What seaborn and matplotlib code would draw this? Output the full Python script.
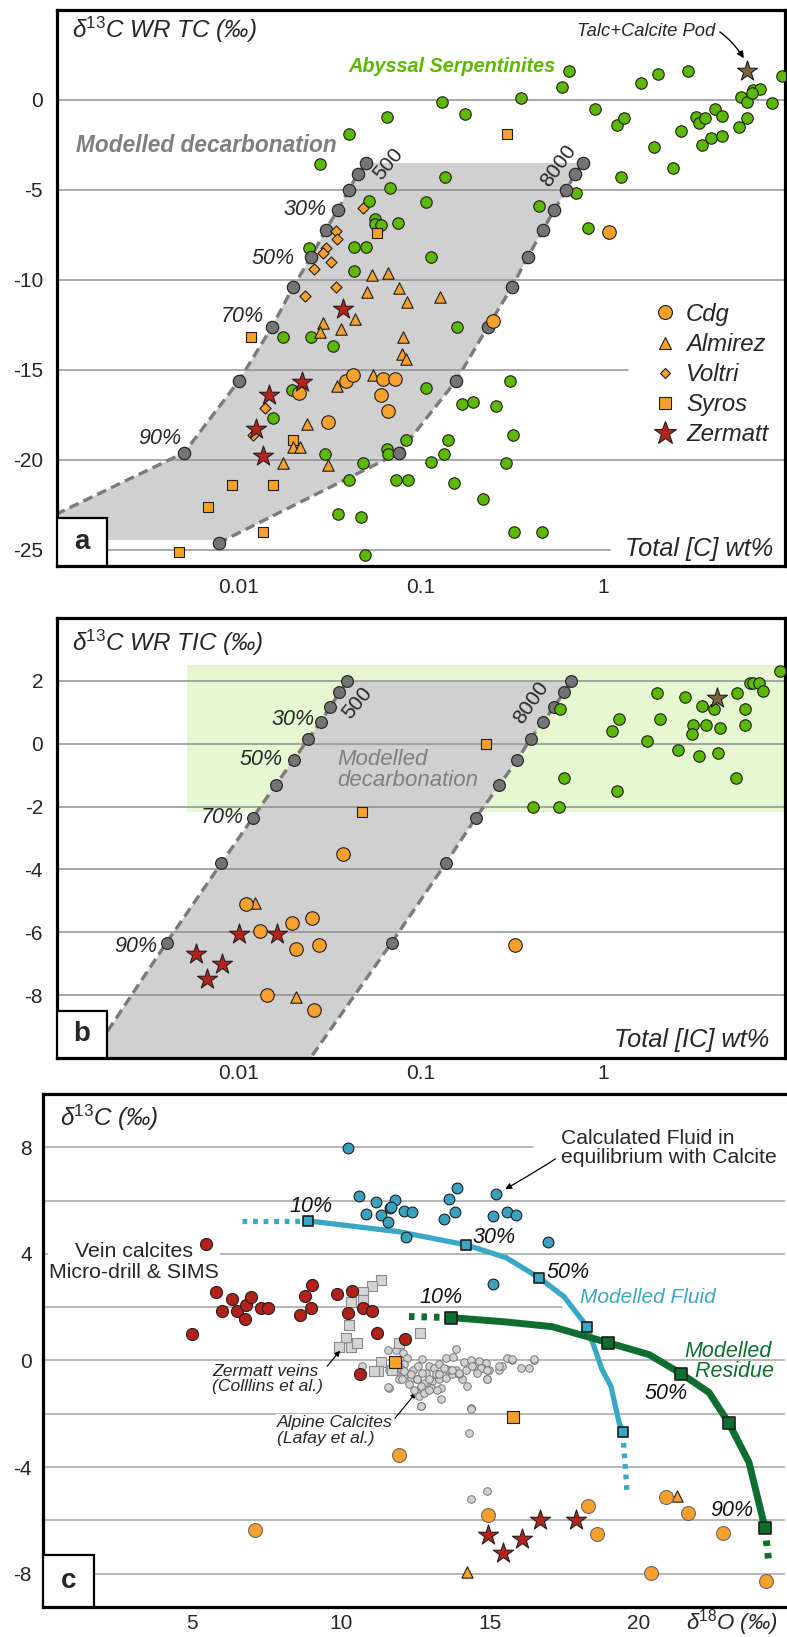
import matplotlib
matplotlib.use("Agg")
import matplotlib.pyplot as plt
import seaborn as sns
from matplotlib.patches import Polygon, Rectangle
from matplotlib.lines import Line2D
from matplotlib.ticker import FixedLocator, FixedFormatter, NullLocator

sns.set_style("white")
plt.rcParams["font.family"] = ["Liberation Sans", "DejaVu Sans"]
plt.rcParams["mathtext.fontset"] = "custom"
plt.rcParams["mathtext.rm"] = "Liberation Sans"
plt.rcParams["mathtext.it"] = "Liberation Sans:italic"

# ---------------- panel a : total C ----------------
a_green_x = [0.065, 0.040, 0.028, 0.130, 0.175, 0.355, 0.596, 0.65, 0.90, 1.19, 1.30, 1.62, 2.0, 2.93,
             1.91, 2.43, 2.69, 3.24, 3.37, 3.63, 4.12, 4.51, 3.50, 3.92, 4.51, 5.58, 6.17, 5.72, 6.17,
             6.66, 7.28, 6.6, 8.5, 9.6, 0.135, 0.106, 0.075, 0.113, 0.068, 0.445, 0.71, 0.83, 1.26,
             0.0518, 0.0558, 0.056, 0.060, 0.0243, 0.0428, 0.0499, 0.0428, 0.0175, 0.0249, 0.0329,
             0.158, 0.0195, 0.0154, 0.0297, 0.048, 0.065, 0.066, 0.040, 0.073, 0.035, 0.0468, 0.049,
             0.106, 0.168, 0.193, 0.258, 0.308, 0.32, 0.141, 0.134, 0.113, 0.083, 0.085, 0.152,
             0.219, 0.293, 0.324, 0.462]
a_green_y = [-0.94, -1.9, -3.56, -0.11, -0.78, 0.11, 0.72, 1.61, -0.5, -1.39, -1.0, 0.94, 1.44, 1.61,
             -2.61, -3.78, -1.72, -0.94, -1.28, -1.0, -0.5, -0.89, -2.5, -2.11, -2.0, -1.5, -1.0, 0.17,
             -0.11, 0.56, 0.61, 0.39, -0.17, 1.33, -4.28, -5.67, -6.83, -8.72, -4.89, -5.89, -5.17,
             -7.1, -4.28, -5.6, -6.6, -6.9, -6.95, -8.2, -8.17, -8.17, -9.5, -13.2, -13.2, -13.67,
             -12.6, -16.1, -17.7, -19.7, -20.2, -19.4, -19.65, -21.1, -21.1, -23.0, -23.2, -25.3,
             -16.0, -16.9, -16.8, -17.0, -15.6, -18.6, -18.9, -19.7, -20.1, -18.9, -21.1, -21.3,
             -22.2, -20.2, -24.0, -24.0]

a_cdg_x = [1.08, 0.249, 0.0214, 0.0309, 0.0387, 0.0424, 0.062, 0.072, 0.0603, 0.066]
a_cdg_y = [-7.33, -12.3, -16.3, -17.9, -15.6, -15.3, -15.5, -15.5, -16.4, -17.3]
a_alm_x = [0.0538, 0.066, 0.0505, 0.076, 0.0838, 0.127, 0.0434, 0.029, 0.0363, 0.0279, 0.0796,
           0.0787, 0.0828, 0.0545, 0.0346, 0.0237, 0.0197, 0.0216, 0.0175, 0.0309]
a_alm_y = [-9.72, -9.61, -10.67, -10.44, -11.22, -10.94, -12.2, -12.39, -12.72, -12.9, -13.17,
           -14.1, -14.4, -15.3, -15.9, -18.0, -19.3, -19.3, -20.2, -20.3]
a_vol_x = [0.048, 0.034, 0.0345, 0.030, 0.029, 0.032, 0.0258, 0.0341, 0.0231, 0.0139, 0.0119]
a_vol_y = [-6.0, -7.3, -7.7, -8.2, -8.5, -9.0, -9.4, -10.39, -10.89, -17.1, -18.6]
a_syr_x = [0.297, 0.0573, 0.0116, 0.0198, 0.0092, 0.0154, 0.0068, 0.0136, 0.0047]
a_syr_y = [-1.89, -7.39, -13.2, -18.9, -21.4, -21.4, -22.6, -24.0, -25.1]
a_zer_x = [0.0373, 0.0222, 0.0146, 0.0124, 0.0136]
a_zer_y = [-11.6, -15.7, -16.4, -18.3, -19.8]
a_pod_x = [6.2]
a_pod_y = [1.6]

a500_x = [0.050, 0.045, 0.040, 0.035, 0.030, 0.025, 0.0198, 0.0152, 0.0100, 0.0050]
a500_y = [-3.5, -4.1, -5.0, -6.1, -7.2, -8.7, -10.4, -12.6, -15.6, -19.6]
a500_end = (0.001, -23.0)
a8000_x = [0.78, 0.70, 0.63, 0.54, 0.47, 0.387, 0.316, 0.233, 0.156, 0.076, 0.0078]
a8000_y = [-3.5, -4.1, -5.0, -6.1, -7.2, -8.7, -10.4, -12.6, -15.6, -19.6, -24.6]
a_pct_labels = ["30%", "50%", "70%", "90%"]
a_pct_x = [0.0231, 0.0154, 0.0104, 0.00368]
a_pct_y = [-6.06, -8.83, -12.06, -18.83]

# ---------------- panel b : inorganic C ----------------
b_green_x = [0.58, 0.61, 0.414, 0.575, 1.12, 1.22, 1.19, 1.74, 1.97, 2.07, 2.60, 2.84, 3.14, 3.07,
             3.52, 3.66, 4.05, 4.37, 3.39, 4.31, 5.40, 5.45, 6.04, 6.04, 6.44, 6.68, 7.21, 7.59, 9.4]
b_green_y = [1.12, -1.09, -2.01, -2.01, 0.42, 0.80, -1.50, 0.10, 1.60, 0.80, -0.19, 1.50, 0.61, 0.32,
             1.21, 0.61, 1.12, 0.51, -0.38, -0.29, -1.09, 1.60, 1.12, 0.61, 1.92, 1.92, 1.92, 1.69, 2.30]
b_cdg_x = [0.0109, 0.013, 0.0195, 0.0251, 0.0205, 0.0274, 0.0142, 0.026, 0.0375, 0.327]
b_cdg_y = [-5.11, -5.97, -5.72, -5.53, -6.52, -6.39, -7.99, -8.47, -3.51, -6.42]
b_alm_x = [0.0122, 0.0207]
b_alm_y = [-5.08, -8.05]
b_syr_x = [0.0477, 0.229]
b_syr_y = [-2.17, 0.0]
b_zer_x = [0.00582, 0.00671, 0.0081, 0.010, 0.0161]
b_zer_y = [-6.68, -7.48, -7.0, -6.07, -6.04]
b_pod_x = [4.25]
b_pod_y = [1.44]

b500_x = [0.0394, 0.0356, 0.0318, 0.0281, 0.0241, 0.0200, 0.0159, 0.0119, 0.0080, 0.0040]
b500_y = [1.98, 1.63, 1.18, 0.70, 0.16, -0.51, -1.31, -2.36, -3.80, -6.33]
b500_end = (0.0015, -10.03)
b8000_x = [0.668, 0.61, 0.54, 0.47, 0.40, 0.339, 0.27, 0.20, 0.137, 0.069]
b8000_y = [1.98, 1.63, 1.18, 0.70, 0.16, -0.51, -1.31, -2.36, -3.80, -6.33]
b8000_end = (0.0245, -10.03)
b_pct_x = [0.0197, 0.0132, 0.0081, 0.0027]
b_pct_y = [0.77, -0.51, -2.36, -6.45]

# ---------------- panel c : d18O vs d13C ----------------
c_fluid_pts_x = [10.23, 10.6, 11.17, 11.8, 10.83, 11.35, 11.64, 11.58, 11.68, 12.11, 12.38, 12.18,
                 13.89, 13.62, 13.83, 13.46, 15.2, 15.57, 15.87, 15.1, 16.95, 15.1]
c_fluid_pts_y = [7.98, 6.18, 5.96, 6.03, 5.51, 5.47, 5.73, 5.21, 5.77, 5.62, 5.58, 4.64,
                 6.48, 6.07, 5.58, 5.32, 6.25, 5.58, 5.47, 5.43, 4.46, 2.88]
c_vein_x = [5.47, 5.0, 5.8, 6.0, 6.34, 6.51, 6.81, 6.98, 6.78, 7.32, 7.55, 8.62, 8.79, 9.03, 8.99,
            9.87, 10.37, 10.23, 10.74, 11.04, 11.21, 12.15, 10.64]
c_vein_y = [4.38, 1.01, 2.58, 1.87, 2.32, 1.84, 2.10, 2.40, 1.57, 1.98, 1.98, 1.69, 2.43, 2.85, 1.98,
            2.51, 2.62, 1.80, 1.98, 1.84, 1.05, 0.82, -0.52]
c_collins_x = [11.34, 11.04, 10.74, 10.74, 10.34, 10.27, 10.17, 9.93, 10.34, 10.54, 12.65, 11.95,
               11.34, 11.24, 11.11, 11.71]
c_collins_y = [3.03, 2.81, 2.58, 2.28, 2.21, 1.35, 0.86, 0.52, 0.52, 0.64, 1.05, 0.64,
               -0.07, -0.41, -0.41, -0.34]
c_lafay_x = [11.59, 11.83, 12.09, 12.23, 12.11, 11.95, 11.61, 11.83, 12.06, 12.23, 12.42, 12.60, 12.73,
             12.95, 13.12, 13.29, 13.51, 13.77, 13.85, 14.13, 14.35, 14.63, 14.85, 14.97, 14.46, 14.74,
             15.30, 15.41, 15.58, 15.75, 16.03, 16.31, 16.48, 12.11, 12.34, 12.56, 12.79, 13.07, 13.29,
             13.51, 13.74, 13.85, 14.07, 14.24, 13.34, 13.01, 12.67, 12.56, 12.62, 12.79, 11.61, 11.95,
             13.34, 12.67, 14.35, 13.62, 12.84, 13.18, 12.28, 14.91, 13.96, 13.51, 12.11, 12.34, 12.56,
             12.73, 12.95, 13.29, 13.46, 13.96, 14.18, 14.41, 14.69, 14.91, 14.91, 12.95, 13.23, 12.67,
             14.35, 14.30, 14.35, 14.89, 12.45, 12.06, 13.74, 14.58, 15.30, 15.75, 16.48, 10.70, 11.58]
c_lafay_y = [0.39, 0.41, 0.29, 0.10, -0.15, -0.21, -0.34, -0.40, -0.34, -0.52, -0.34, -0.21, 0.06,
             -0.21, -0.28, -0.15, 0.10, 0.14, 0.44, -0.06, 0.01, -0.03, -0.09, -0.34, -0.21, -0.28,
             -0.34, -0.21, 0.10, 0.01, -0.28, -0.28, 0.01, -0.59, -0.65, -0.71, -0.84, -0.77, -0.71,
             -0.65, -0.52, -0.34, -0.71, -0.96, -1.02, -1.02, -0.96, -1.21, -1.34, -1.21, -1.02, -0.71,
             -1.44, -1.71, -1.77, -0.34, -0.46, -0.52, -0.90, -0.71, -0.49, -0.31, -0.40, -0.52, -0.71,
             -0.46, -0.71, -0.52, -0.27, -0.46, -0.34, -0.21, -0.27, -0.34, -0.71, -1.09, -1.09, -1.71,
             -1.81, -2.71, -5.21, -4.89, -1.09, -0.71, -0.34, -0.46, -0.21, 0.04, 0.04, -0.22, -1.01]
c_cdg_x = [7.11, 11.95, 14.93, 18.29, 18.59, 20.9, 21.64, 22.82, 20.4, 24.26]
c_cdg_y = [-6.37, -3.56, -5.8, -5.47, -6.52, -5.13, -5.73, -6.48, -7.98, -8.28]
c_alm_x = [21.28, 14.23]
c_alm_y = [-5.09, -7.94]
c_syr_x = [11.81, 15.77]
c_syr_y = [-0.04, -2.13]
c_zer_x = [14.93, 15.44, 16.07, 16.68, 17.89]
c_zer_y = [-6.55, -7.23, -6.70, -5.99, -5.99]

fluid_x = [8.89, 11.95, 14.19, 15.54, 16.64, 17.48, 18.26, 18.76, 19.06, 19.33, 19.46]
fluid_y = [5.24, 4.83, 4.34, 3.86, 3.11, 2.40, 1.27, -0.34, -0.97, -2.32, -2.70]
fluid_sq_x = [8.89, 14.19, 16.64, 18.26, 19.46]
fluid_sq_y = [5.24, 4.34, 3.11, 1.27, -2.70]
fluid_ext_left = ([6.68, 8.89], [5.24, 5.24])
fluid_ext_down = ([19.46, 19.6], [-2.70, -4.98])
resid_x = [13.69, 15.5, 17.08, 18.96, 20.34, 21.41, 22.35, 23.02, 23.69, 24.23]
resid_y = [1.61, 1.45, 1.27, 0.67, 0.22, -0.49, -1.2, -2.36, -3.82, -6.29]
resid_sq_x = [13.69, 18.96, 21.41, 23.02, 24.23]
resid_sq_y = [1.61, 0.67, -0.49, -2.36, -6.29]
resid_ext_left = ([12.28, 13.69], [1.65, 1.61])
resid_ext_down = ([24.23, 24.36], [-6.29, -7.6])

# ---------------- styles ----------------
GREEN = "#5cb800"
ORANGE = "#f8a02e"
RED = "#b4241b"
GREYPT = "#747474"
EDGE = "#1e1e1e"
POD = "#7c6440"
BLUE = "#3aa7c4"
DKGREEN = "#0f6e2f"
GRIDC = "#8f8f8f"
TICKFS = 15
TITLEFS = 17.5

fig = plt.figure(figsize=(7.87, 16.37), dpi=100)
ax_a = fig.add_axes([0.0724, 0.65425, 0.925, 0.33964])
ax_b = fig.add_axes([0.0724, 0.3537, 0.925, 0.26878])
ax_c = fig.add_axes([0.05464, 0.01833, 0.94282, 0.31338])


def pts(ax, xs, ys, marker, color, s, z=4, ec=EDGE, lw=0.8):
    sns.scatterplot(x=xs, y=ys, ax=ax, marker=marker, color=color, s=s, edgecolor=ec,
                    linewidth=lw, zorder=z, legend=False)


def frame(ax, right=True):
    for side in ["left", "bottom", "top", "right"]:
        ax.spines[side].set_linewidth(2.3)
        ax.spines[side].set_color("black")
    if not right:
        ax.spines["right"].set_visible(False)


def panel_box(ax, letter, w, h):
    ax.add_patch(Rectangle((0, 0), w, h, transform=ax.transAxes, facecolor="white",
                           edgecolor="black", lw=1.6, zorder=8))
    ax.text(w / 2, h / 2, letter, transform=ax.transAxes, ha="center", va="center",
            fontsize=20, fontweight="bold", zorder=9)


def log_axis(ax, ylim, yticks, direction, pad):
    ax.set_xscale("log")
    ax.set_xlim(0.001, 10)
    ax.set_ylim(*ylim)
    ax.xaxis.set_major_locator(FixedLocator([0.01, 0.1, 1]))
    ax.xaxis.set_major_formatter(FixedFormatter(["0.01", "0.1", "1"]))
    ax.xaxis.set_minor_locator(NullLocator())
    ax.set_yticks(yticks)
    ax.set_yticklabels([str(v) for v in yticks])
    ax.tick_params(axis="x", direction=direction, length=8, width=2.5, labelsize=TICKFS, pad=pad)
    ax.tick_params(axis="y", length=0, labelsize=TICKFS, pad=10)
    frame(ax)


# ======== panel a ========
log_axis(ax_a, (-25.9, 5), [0, -5, -10, -15, -20, -25], "out", 1)
for yv, x0, x1 in [(0, 0, 1), (-5, 0, 1), (-10, 0, 1), (-15, 0, 0.784), (-20, 0, 1), (-25, 0.069, 0.76)]:
    ax_a.axhline(yv, x0, x1, color=GRIDC, lw=1.1, zorder=1)

poly_a = ([(x, y) for x, y in zip(a500_x, a500_y)] + [a500_end, (0.001, -24.45), (0.0074, -24.45)]
          + [(x, y) for x, y in zip(a8000_x[::-1], a8000_y[::-1])])
ax_a.add_patch(Polygon(poly_a, closed=True, facecolor="#d0d0d0", edgecolor="none", zorder=0.5))
ax_a.plot(a500_x + [a500_end[0]], a500_y + [a500_end[1]], ls=(0, (3, 1.6)), color="#7b7b7b", lw=2.4, zorder=2)
ax_a.plot(a8000_x, a8000_y, ls=(0, (3, 1.6)), color="#7b7b7b", lw=2.4, zorder=2)

pts(ax_a, a_green_x, a_green_y, "o", GREEN, 68, z=3)
pts(ax_a, a500_x, a500_y, "o", GREYPT, 80, z=3.5)
pts(ax_a, a8000_x, a8000_y, "o", GREYPT, 80, z=3.5)
pts(ax_a, a_syr_x, a_syr_y, "s", ORANGE, 62)
pts(ax_a, a_vol_x, a_vol_y, "D", ORANGE, 32)
pts(ax_a, a_alm_x, a_alm_y, "^", ORANGE, 68)
pts(ax_a, a_cdg_x, a_cdg_y, "o", ORANGE, 95)
pts(ax_a, a_zer_x, a_zer_y, "*", RED, 230)
pts(ax_a, a_pod_x, a_pod_y, "*", POD, 230)

for lab, x, y in zip(a_pct_labels, a_pct_x, a_pct_y):
    ax_a.text(x, y, lab, ha="center", va="center", fontsize=15.5, style="italic", zorder=6)
ax_a.text(0.066, -3.55, "500", rotation=50, ha="center", va="center", fontsize=15, zorder=6)
ax_a.text(0.573, -3.65, "8000", rotation=54, ha="center", va="center", fontsize=15, zorder=6)
ax_a.text(0.205, 0.757, "Modelled decarbonation", transform=ax_a.transAxes, ha="center", va="center",
          fontsize=16.3, color="#7f7f7f", fontweight="bold", style="italic", zorder=6)
ax_a.text(0.543, 0.899, "Abyssal Serpentinites", transform=ax_a.transAxes, ha="center", va="center",
          fontsize=14.3, color=GREEN, fontweight="bold", style="italic", zorder=6)
ax_a.annotate("Talc+Calcite Pod", xy=(6.0, 2.25), xytext=(4.15, 3.83), ha="right", va="center",
              fontsize=13.2, style="italic", zorder=6,
              arrowprops=dict(arrowstyle="-|>", color="black", lw=1.0, mutation_scale=10,
                              connectionstyle="arc3,rad=-0.45", shrinkA=1, shrinkB=1))
ax_a.text(0.0206, 0.964, "δ$^{13}$C WR TC (‰)", transform=ax_a.transAxes, ha="left", va="center",
          fontsize=TITLEFS, style="italic")
ax_a.text(0.9835, 0.031, "Total [C] wt%", transform=ax_a.transAxes, ha="right", va="center",
          fontsize=18.3, style="italic", zorder=9)
panel_box(ax_a, "a", 0.0687, 0.0863)

handles = [
    Line2D([], [], ls="", marker="o", markersize=10, markerfacecolor=ORANGE, markeredgecolor=EDGE, markeredgewidth=0.8, label="Cdg"),
    Line2D([], [], ls="", marker="^", markersize=8.5, markerfacecolor=ORANGE, markeredgecolor=EDGE, markeredgewidth=0.8, label="Almirez"),
    Line2D([], [], ls="", marker="D", markersize=5.5, markerfacecolor=ORANGE, markeredgecolor=EDGE, markeredgewidth=0.8, label="Voltri"),
    Line2D([], [], ls="", marker="s", markersize=8, markerfacecolor=ORANGE, markeredgecolor=EDGE, markeredgewidth=0.8, label="Syros"),
    Line2D([], [], ls="", marker="*", markersize=17, markerfacecolor=RED, markeredgecolor=EDGE, markeredgewidth=0.8, label="Zermatt"),
]
leg = ax_a.legend(handles=handles, loc="upper left", bbox_to_anchor=(0.797, 0.495), frameon=False,
                  fontsize=17.2, labelspacing=0.3, handletextpad=0.25, handlelength=1.3, borderpad=0)
for t in leg.get_texts():
    t.set_fontstyle("italic")

# ======== panel b ========
log_axis(ax_b, (-10.0, 4.0), [2, 0, -2, -4, -6, -8], "in", 4)
for yv in [2, 0, -2, -4, -6, -8]:
    ax_b.axhline(yv, color=GRIDC, lw=1.1, zorder=1)
ax_b.add_patch(Polygon([(0.0052, 2.49), (10, 2.49), (10, -2.17), (0.0052, -2.17)], closed=True,
                       facecolor="#e5f8d2", edgecolor="none", zorder=0.3))
poly_b = ([(x, y) for x, y in zip(b500_x, b500_y)] + [b500_end, b8000_end]
          + [(x, y) for x, y in zip(b8000_x[::-1], b8000_y[::-1])])
ax_b.add_patch(Polygon(poly_b, closed=True, facecolor="#d0d0d0", edgecolor="none", zorder=0.5))
ax_b.plot(b500_x + [b500_end[0]], b500_y + [b500_end[1]], ls=(0, (3, 1.6)), color="#7b7b7b", lw=2.4, zorder=2)
ax_b.plot(b8000_x + [b8000_end[0]], b8000_y + [b8000_end[1]], ls=(0, (3, 1.6)), color="#7b7b7b", lw=2.4, zorder=2)

pts(ax_b, b500_x, b500_y, "o", GREYPT, 72, z=3.5)
pts(ax_b, b8000_x, b8000_y, "o", GREYPT, 72, z=3.5)
pts(ax_b, b_green_x, b_green_y, "o", GREEN, 68, z=3.6)
pts(ax_b, b_syr_x, b_syr_y, "s", ORANGE, 62)
pts(ax_b, b_alm_x, b_alm_y, "^", ORANGE, 68)
pts(ax_b, b_cdg_x, b_cdg_y, "o", ORANGE, 95)
pts(ax_b, b_zer_x, b_zer_y, "*", RED, 230)
pts(ax_b, b_pod_x, b_pod_y, "*", POD, 230)

for lab, x, y in zip(a_pct_labels, b_pct_x, b_pct_y):
    ax_b.text(x, y, lab, ha="center", va="center", fontsize=15.5, style="italic", zorder=6)
ax_b.text(0.0447, 1.28, "500", rotation=50, ha="center", va="center", fontsize=15, zorder=6)
ax_b.text(0.404, 1.31, "8000", rotation=55, ha="center", va="center", fontsize=15, zorder=6)
ax_b.text(0.385, 0.655, "Modelled\ndecarbonation", transform=ax_b.transAxes, ha="left", va="center",
          fontsize=16, color="#808080", style="italic", linespacing=1.0, zorder=6)
ax_b.text(0.0206, 0.943, "δ$^{13}$C WR TIC (‰)", transform=ax_b.transAxes, ha="left", va="center",
          fontsize=TITLEFS, style="italic")
ax_b.text(0.979, 0.041, "Total [IC] wt%", transform=ax_b.transAxes, ha="right", va="center",
          fontsize=18.3, style="italic", zorder=9)
panel_box(ax_b, "b", 0.0687, 0.107)

# ======== panel c ========
ax_c.set_xlim(0, 24.9)
ax_c.set_ylim(-9.25, 10)
ax_c.set_xticks([5, 10, 15, 20])
ax_c.set_xticklabels(["5", "10", "15", "20"])
ax_c.set_yticks([8, 4, 0, -4, -8])
ax_c.set_yticklabels(["8", "4", "0", "-4", "-8"])
ax_c.tick_params(axis="x", direction="in", length=8, width=2.5, labelsize=TICKFS, pad=5)
ax_c.tick_params(axis="y", length=0, labelsize=TICKFS, pad=8)
frame(ax_c, right=False)
for yv, x0, x1 in [(8, 0, 0.66), (6, 0, 1), (4, 0, 1), (2, 0, 0.70), (0, 0, 1), (-2, 0, 1),
                   (-4, 0, 1), (-6, 0, 1), (-8, 0.069, 1)]:
    ax_c.axhline(yv, x0, x1, color="#a3a3a3", lw=1.1, zorder=1)

ax_c.plot(fluid_x, fluid_y, color=BLUE, lw=3.8, zorder=2.6, solid_capstyle="butt")
ax_c.plot(*fluid_ext_left, color=BLUE, lw=3.8, ls=(0, (0.9, 1.1)), zorder=2.6)
ax_c.plot(*fluid_ext_down, color=BLUE, lw=3.8, ls=(0, (0.9, 1.1)), zorder=2.6)
ax_c.plot(resid_x, resid_y, color=DKGREEN, lw=5, zorder=2.6, solid_capstyle="butt")
ax_c.plot(*resid_ext_left, color=DKGREEN, lw=5, ls=(0, (0.8, 1.0)), zorder=2.6)
ax_c.plot(*resid_ext_down, color=DKGREEN, lw=5, ls=(0, (0.8, 1.0)), zorder=2.6)
pts(ax_c, fluid_sq_x, fluid_sq_y, "s", BLUE, 48, z=5, lw=1.2)
pts(ax_c, resid_sq_x, resid_sq_y, "s", DKGREEN, 68, z=5, lw=1.2)

pts(ax_c, c_lafay_x, c_lafay_y, "o", "#d2d2d2", 30, z=3, ec="#777777", lw=0.7)
pts(ax_c, c_collins_x, c_collins_y, "s", "#d4d4d4", 54, z=3.2, ec="#8a8a8a", lw=0.8)
pts(ax_c, c_vein_x, c_vein_y, "o", "#b3221a", 75, z=3.4)
pts(ax_c, c_fluid_pts_x, c_fluid_pts_y, "o", "#3aa2bf", 60, z=3.4)
pts(ax_c, c_syr_x, c_syr_y, "s", ORANGE, 64)
pts(ax_c, c_alm_x, c_alm_y, "^", ORANGE, 66)
pts(ax_c, c_cdg_x, c_cdg_y, "o", ORANGE, 100, ec="#6a6a6a")
pts(ax_c, c_zer_x, c_zer_y, "*", RED, 230)

for lab, x, y in [("10%", 8.99, 5.77), ("30%", 15.13, 4.61), ("50%", 17.62, 3.30),
                  ("10%", 13.36, 2.36), ("50%", 20.91, -1.24), ("90%", 23.12, -5.62)]:
    ax_c.text(x, y, lab, ha="center", va="center", fontsize=15.5, style="italic", color="#111111", zorder=6)
ax_c.text(20.3, 2.36, "Modelled Fluid", ha="center", va="center", fontsize=15, style="italic",
          color=BLUE, zorder=6)
ax_c.text(23.0, -0.04, "Modelled\n  Residue", ha="center", va="center", fontsize=15.5, style="italic",
          color=DKGREEN, linespacing=0.95, zorder=6)
ax_c.text(3.05, 3.69, "Vein calcites\nMicro-drill & SIMS", ha="center", va="center", fontsize=15.3,
          linespacing=1.1, zorder=2, bbox=dict(facecolor="white", edgecolor="none", pad=1))
ax_c.annotate("Calculated Fluid in\nequilibrium with Calcite", xy=(15.47, 6.40), xytext=(17.38, 7.98),
              ha="left", va="center", fontsize=15.2, linespacing=1.0, zorder=6,
              arrowprops=dict(arrowstyle="-|>", color="black", lw=0.9, mutation_scale=9,
                              connectionstyle="angle3,angleA=170,angleB=30", shrinkA=2, shrinkB=1,
                              relpos=(0, 0.35)))
ax_c.annotate("Zermatt veins\n(Colllins et al.)", xy=(10.0, 0.41), xytext=(5.67, -0.69), ha="left",
              va="center", fontsize=12.6, style="italic", linespacing=1.05, zorder=6,
              arrowprops=dict(arrowstyle="-|>", color="black", lw=0.8, mutation_scale=8,
                              relpos=(1, 0.75), shrinkA=1, shrinkB=1))
ax_c.annotate("Alpine Calcites\n(Lafay et al.)", xy=(12.55, -1.16), xytext=(7.85, -2.62), ha="left",
              va="center", fontsize=12.6, style="italic", linespacing=1.05, zorder=2.5,
              bbox=dict(facecolor="white", edgecolor="none", pad=1),
              arrowprops=dict(arrowstyle="-|>", color="black", lw=0.8, mutation_scale=8,
                              relpos=(1, 0.8), shrinkA=1, shrinkB=1))
ax_c.text(0.023, 0.953, "δ$^{13}$C (‰)", transform=ax_c.transAxes, ha="left", va="center",
          fontsize=TITLEFS, style="italic")
ax_c.text(0.9906, -0.031, "δ$^{18}$O (‰)", transform=ax_c.transAxes, ha="right", va="center",
          fontsize=16, style="italic", clip_on=False)
panel_box(ax_c, "c", 0.0687, 0.101)

fig.savefig("out.png", dpi=100)
